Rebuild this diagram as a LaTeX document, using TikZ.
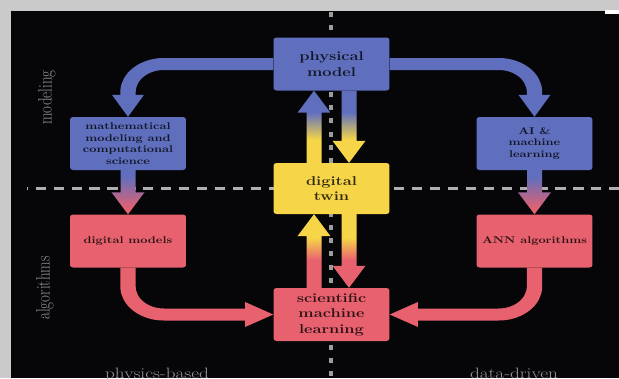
\documentclass[tikz,border=0pt]{standalone}
\usetikzlibrary{arrows.meta,calc}
\definecolor{cblue}{RGB}{95,111,190}
\definecolor{cpink}{RGB}{232,97,111}
\definecolor{cyellow}{RGB}{246,214,72}
\definecolor{cbg}{RGB}{6,6,9}
\definecolor{cframe}{RGB}{202,202,202}
\definecolor{cdash}{RGB}{175,175,175}
\definecolor{clabel}{RGB}{150,150,150}
\pgfdeclareverticalshading{byshade}{100bp}{color(0bp)=(cyellow); color(41bp)=(cyellow); color(60bp)=(cblue); color(100bp)=(cblue)}
\pgfdeclareverticalshading{ypshade}{100bp}{color(0bp)=(cpink); color(44bp)=(cpink); color(59bp)=(cyellow); color(100bp)=(cyellow)}
\pgfdeclareverticalshading{bpshade}{100bp}{color(0bp)=(cpink); color(30bp)=(cpink); color(68bp)=(cblue); color(100bp)=(cblue)}
\newcommand\gradarrow[3]{%
  \path[shade, shading=#3] let \p1=#1, \p2=#2, \n1={sign(\y2-\y1)} in
    (\x1-5.86pt,\y1) -- (\x1-5.86pt,{\y2-(\n1)*22pt}) -- (\x1-12.9pt,{\y2-(\n1)*22pt}) -- (\x2,\y2)
    -- (\x1+12.9pt,{\y2-(\n1)*22pt}) -- (\x1+5.86pt,{\y2-(\n1)*22pt}) -- (\x1+5.86pt,\y1) -- cycle;}
\tikzset{
  box/.style={rounded corners=2.5pt, minimum width=90.6pt, minimum height=53pt, inner sep=1pt,
    align=center, text=black, text opacity=0.8, font=\bfseries\fontsize{9.8}{11.5}\selectfont},
  bigbox/.style={box, font=\bfseries\fontsize{12.8}{15.5}\selectfont},
  curvearrow/.style={line width=12pt, rounded corners=28pt,
    -{Triangle[width=25pt,length=22pt,line width=0pt]}},
  sidelabel/.style={text=clabel, font=\fontsize{15}{18}\selectfont, inner sep=0pt},
  hdash/.style={draw=cdash, line width=3pt, dash pattern=on 8pt off 6pt, dash phase=7.2pt},
  vdash/.style={draw=cdash!90!black, line width=3.1pt, dash pattern=on 5pt off 8.3pt},
}
\begin{document}
\begin{tikzpicture}[x=0.78125pt, y=-1pt]
  \path[use as bounding box] (0pt,0pt) rectangle (619pt,-378pt);
  \fill[cframe] (0pt,0pt) rectangle (619pt,-378pt);
  \fill[cbg] (11pt,-11pt) rectangle (619pt,-378pt);
  \fill[white] (605pt,-10pt) rectangle (619pt,-14pt);
  \begin{scope}[transform canvas={xscale=1.28}]
    % guide lines
    \path[hdash] (27,188.5) -- (619,188.5);
    \path[vdash] (331,12) -- (331,378);
    % nodes
    \node[bigbox, fill=cblue] (pm) at (331.5,64) {physical\\model};
    \node[box, fill=cblue] (math) at (128,143.5) {mathematical\\modeling and\\computational\\science};
    \node[box, fill=cblue] (ai) at (534.5,143.5) {AI \&\\machine\\learning};
    \node[bigbox, fill=cyellow, minimum height=51pt] (twin) at (331.5,188.5) {digital\\twin};
    \node[box, fill=cpink] (dm) at (128,241) {digital models};
    \node[box, fill=cpink] (ann) at (534.5,241) {ANN algorithms};
    \node[bigbox, fill=cpink] (sciml) at (331.5,314.5) {scientific\\machine\\learning};
    % labels
    \node[sidelabel, rotate=90] (lmod) at (47,97.5) {modeling};
    \node[sidelabel, rotate=90] (lalg) at (45,288) {algorithms};
    \node[sidelabel, anchor=base] (lphys) at (157,378) {physics-based};
    \node[sidelabel, anchor=base] (ldata) at (514,378) {data-driven};
    % curved connectors
    \draw[curvearrow, cblue] (pm.west) -| (math.north);
    \draw[curvearrow, cblue] (pm.east) -| (ai.north);
    \draw[curvearrow, cpink] (dm.south) |- (sciml.west);
    \draw[curvearrow, cpink] (ann.south) |- (sciml.east);
    % gradient connectors
    \gradarrow{(math.south)}{(dm.north)}{bpshade}
    \gradarrow{(ai.south)}{(ann.north)}{bpshade}
    \gradarrow{($(pm.south)+(17.5,0)$)}{($(twin.north)+(17.5,0)$)}{byshade}
    \gradarrow{($(twin.north)+(-17.5,0)$)}{($(pm.south)+(-17.5,0)$)}{byshade}
    \gradarrow{($(twin.south)+(17.5,0)$)}{($(sciml.north)+(17.5,0)$)}{ypshade}
    \gradarrow{($(sciml.north)+(-17.5,0)$)}{($(twin.south)+(-17.5,0)$)}{ypshade}
  \end{scope}
\end{tikzpicture}
\end{document}
